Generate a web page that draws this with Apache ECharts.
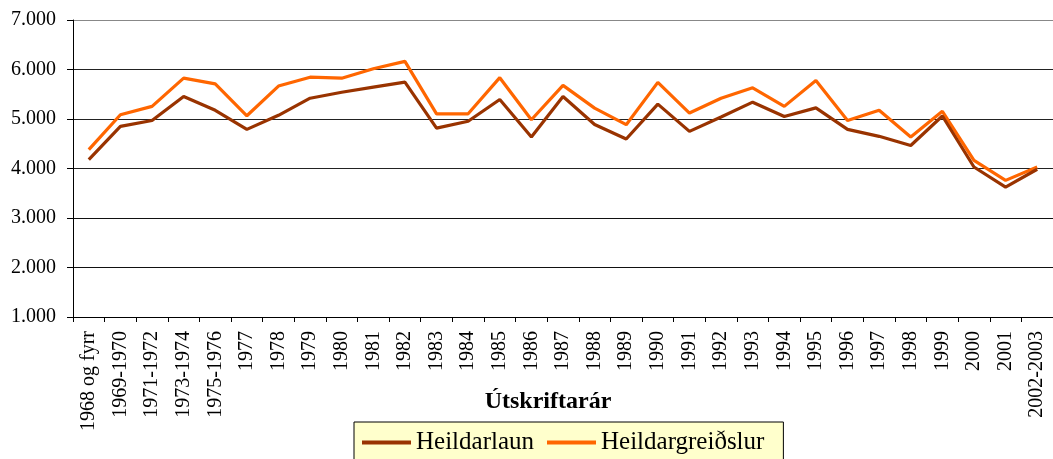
<!DOCTYPE html>
<html>
<head>
<meta charset="utf-8">
<script src="https://cdn.jsdelivr.net/npm/echarts@6/dist/echarts.min.js"></script>
<style>
  html, body { margin: 0; padding: 0; background: #fff; }
  #chart { width: 1053px; height: 459px; }
</style>
</head>
<body>
<div id="chart"></div>
<script>
const categories = [
  '1968 og fyrr', '1969-1970', '1971-1972', '1973-1974', '1975-1976',
  '1977', '1978', '1979', '1980', '1981', '1982', '1983', '1984', '1985',
  '1986', '1987', '1988', '1989', '1990', '1991', '1992', '1993', '1994',
  '1995', '1996', '1997', '1998', '1999', '2000', '2001', '2002-2003'
];
const heildarlaun = [
  4180, 4850, 4970, 5455, 5175, 4790, 5075, 5420, 5540, 5645, 5745,
  4815, 4955, 5395, 4635, 5455, 4890, 4595, 5300, 4750, 5040, 5340,
  5050, 5225, 4790, 4650, 4465, 5060, 4030, 3625, 3985
];
const heildargreidslur = [
  4380, 5085, 5255, 5825, 5710, 5065, 5665, 5845, 5825, 6015, 6165,
  5105, 5105, 5835, 4985, 5680, 5220, 4885, 5740, 5120, 5420, 5630,
  5255, 5780, 4970, 5175, 4635, 5155, 4165, 3760, 4030
];
const yTicks = [1000, 2000, 3000, 4000, 5000, 6000, 7000];

const font = '"Liberation Serif", "Times New Roman", serif';
const chart = echarts.init(document.getElementById('chart'));

chart.setOption({
  animation: false,
  backgroundColor: '#fff',
  textStyle: { fontFamily: font, color: '#000' },
  grid: { left: 73, top: 20, width: 985, height: 297, containLabel: false },
  legend: {
    left: 354,
    top: 422,
    padding: [8, 19, 24, 8],
    backgroundColor: '#FFFFCC',
    borderColor: '#000',
    borderWidth: 1,
    borderRadius: 0,
    icon: 'rect',
    itemWidth: 49,
    itemHeight: 4,
    itemGap: 13,
    textStyle: { fontFamily: font, fontSize: 25, color: '#000' },
    data: ['Heildarlaun', 'Heildargreiðslur']
  },
  graphic: [{
    type: 'text',
    x: 548,
    y: 402,
    style: {
      text: 'Útskriftarár',
      font: 'bold 24px ' + font,
      fill: '#000',
      align: 'center',
      verticalAlign: 'middle'
    }
  }],
  xAxis: {
    type: 'category',
    data: categories,
    boundaryGap: true,
    axisLine: { lineStyle: { color: '#000', width: 1 } },
    axisTick: { show: true, length: 5, inside: false, lineStyle: { color: '#000' } },
    axisLabel: {
      interval: 0,
      rotate: 90,
      margin: 14,
      fontFamily: font,
      fontSize: 20,
      color: '#000'
    },
    splitLine: { show: false }
  },
  yAxis: {
    type: 'value',
    min: 1000,
    max: 7000,
    interval: 1000,
    axisLine: { show: true, lineStyle: { color: '#000', width: 1 } },
    axisTick: { show: true, length: 6, lineStyle: { color: '#000' } },
    axisLabel: {
      margin: 17,
      fontFamily: font,
      fontSize: 20,
      color: '#000',
      formatter: function (v) {
        return yTicks.indexOf(v) >= 0 ? (v / 1000).toFixed(3) : '';
      }
    },
    splitLine: {
      show: true,
      lineStyle: {
        color: ['#000', '#111', '#111', '#222', '#222', '#222', '#888'],
        width: 1
      }
    }
  },
  series: [
    {
      name: 'Heildarlaun',
      type: 'line',
      data: heildarlaun,
      symbol: 'none',
      lineStyle: { color: '#993300', width: 3.2 },
      itemStyle: { color: '#993300' },
      z: 3
    },
    {
      name: 'Heildargreiðslur',
      type: 'line',
      data: heildargreidslur,
      symbol: 'none',
      lineStyle: { color: '#FF6600', width: 3.2 },
      itemStyle: { color: '#FF6600' },
      z: 2
    }
  ]
});
</script>
</body>
</html>
